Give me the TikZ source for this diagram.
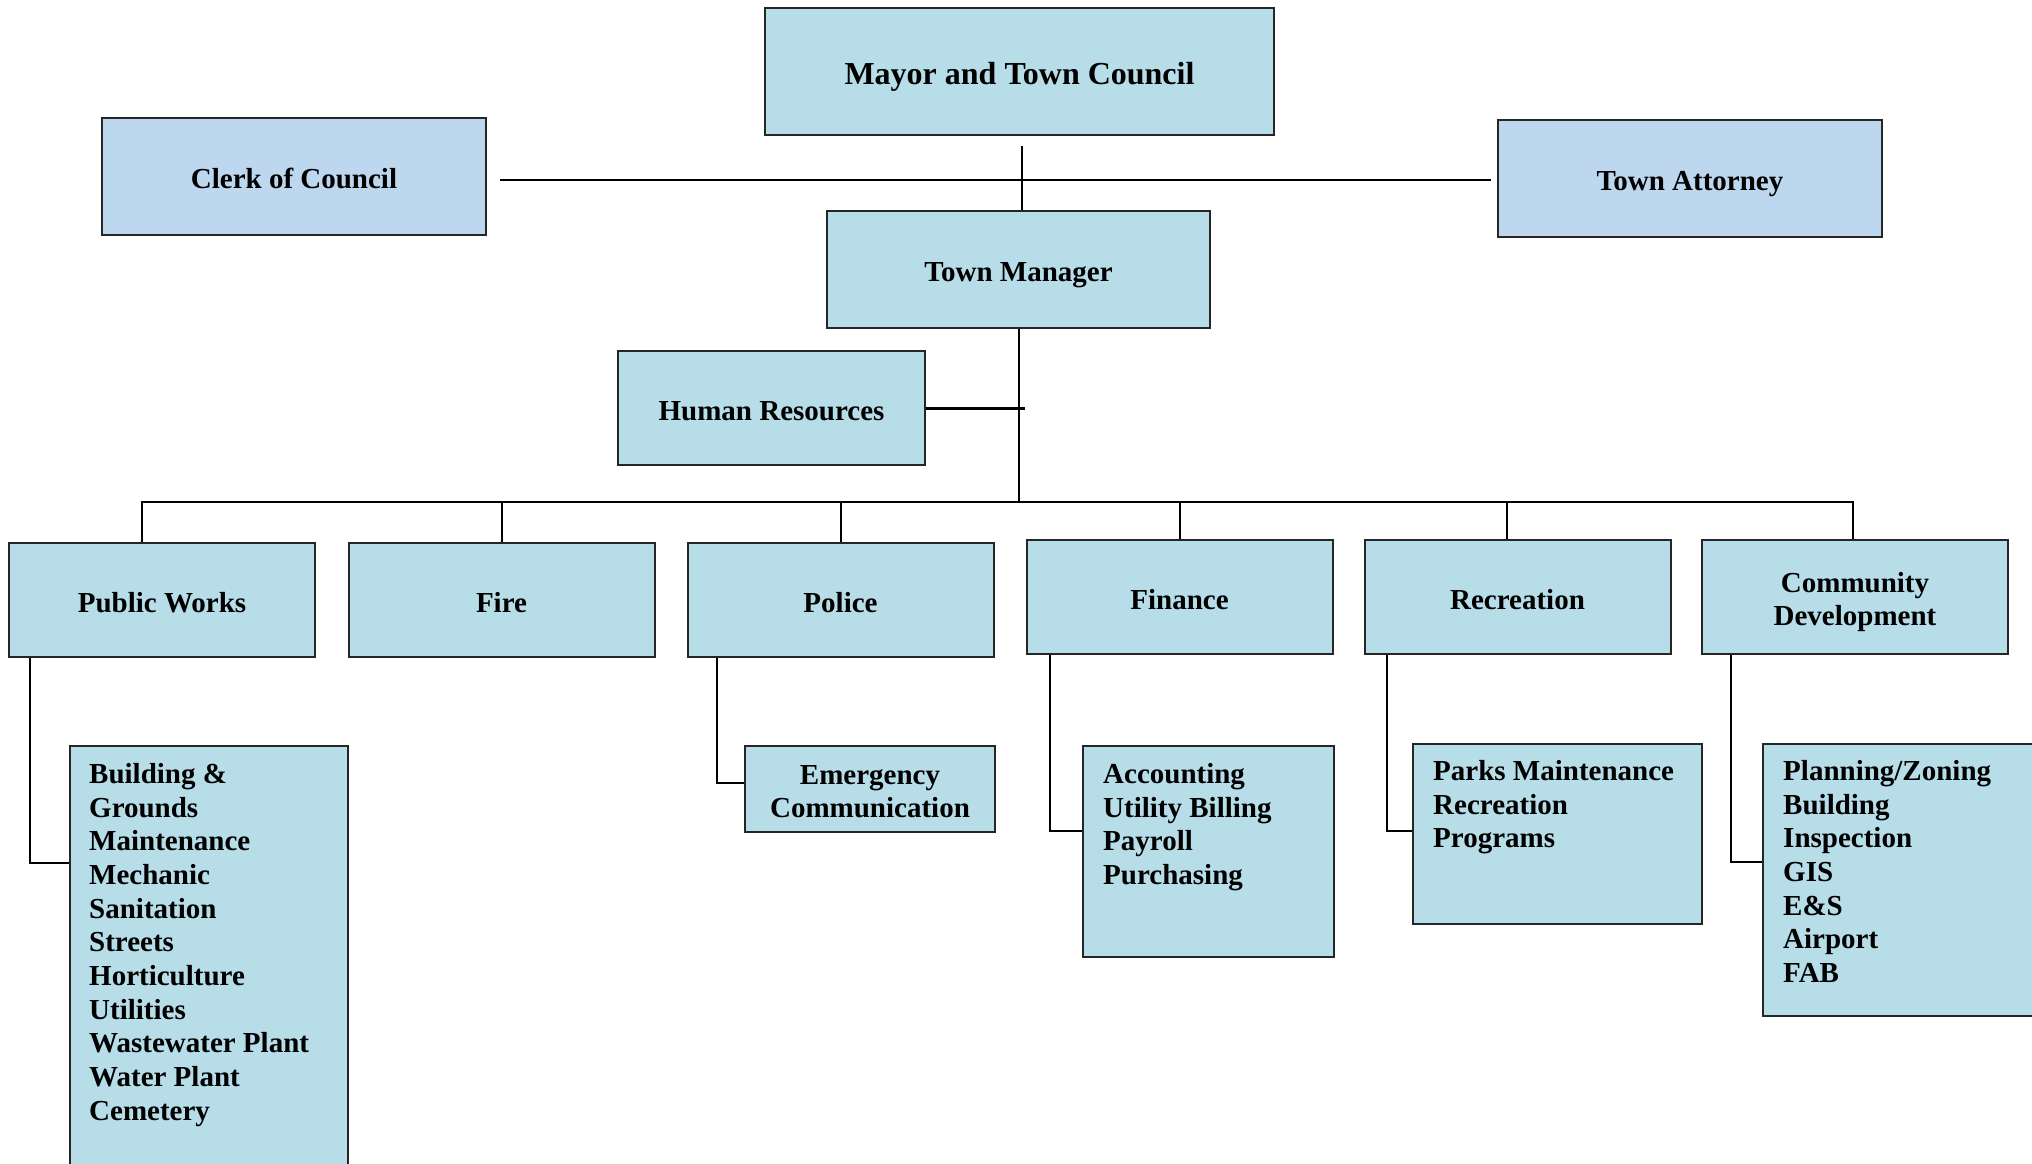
\documentclass[tikz,border=0pt]{standalone}
\usepackage{fontspec}
\setmainfont{Liberation Serif}
\usetikzlibrary{calc}
\definecolor{aqua}{HTML}{B7DDE8}
\definecolor{staffblue}{HTML}{BDD7EE}

\begin{document}
\begin{tikzpicture}[x=1pt, y=-1pt,
    unit/.style={draw=black!85, line width=2pt, fill=aqua, minimum width=306pt, minimum height=114pt,
      align=center, text height=24pt, text depth=0pt, font=\fontsize{29}{33.7}\selectfont\bfseries},
    twolines/.style={text height=57.7pt},
    staff/.style={unit, fill=staffblue, minimum width=384pt, minimum height=117pt},
    sub/.style={unit, anchor=north west},
    list/.style={anchor=north west, inner sep=0pt, align=left, font=\fontsize{29}{33.7}\selectfont\bfseries},
    link/.style={line width=2pt}]
  \useasboundingbox (0,0) rectangle (2032,1164);

  \node [unit, minimum width=509pt, minimum height=127pt, text height=26pt, font=\fontsize{32}{36}\selectfont\bfseries] (mayor) at (1019.5,71.5) {Mayor and Town Council};
  \node [staff] (clerk) at (294,176.5) {Clerk of Council};
  \node [staff] (attorney) at (1690,178.5) {Town Attorney};
  \node [unit, minimum width=383pt, minimum height=117pt] (manager) at (1018.5,269.5) {Town Manager};
  \node [unit, minimum width=307pt] (hr) at (771.5,408) {Human Resources};

  \node [unit] (works) at (162,600) {Public Works};
  \node [unit] (fire) at (501.5,600) {Fire};
  \node [unit] (police) at (840.5,600) {Police};
  \node [unit] (finance) at (1179.5,597) {Finance};
  \node [unit] (recreation) at (1517.5,597) {Recreation};
  \node [unit, twolines] (community) at (1855,597) {Community\\Development};

  \node [sub, minimum width=278pt, minimum height=440pt] (worksub) at (69,745) {};
  \node [list] (worklist) at ($(worksub.north west)+(20,18)$) {Building \&\\Grounds\\Maintenance\\Mechanic\\Sanitation\\Streets\\Horticulture\\Utilities\\Wastewater Plant\\Water Plant\\Cemetery};
  \node [sub, twolines, minimum width=250pt, minimum height=86pt] (dispatch) at (744,745) {Emergency\\Communication};
  \node [sub, minimum width=251pt, minimum height=211pt] (financesub) at (1082,745) {};
  \node [list] (financelist) at ($(financesub.north west)+(21,18)$) {Accounting\\Utility Billing\\Payroll\\Purchasing};
  \node [sub, minimum width=289pt, minimum height=180pt] (recsub) at (1412,743) {};
  \node [list] (reclist) at ($(recsub.north west)+(21,17)$) {Parks Maintenance\\Recreation\\Programs};
  \node [sub, minimum width=290pt, minimum height=272pt] (commsub) at (1762,743) {};
  \node [list] (commlist) at ($(commsub.north west)+(21,17)$) {Planning/Zoning\\Building\\Inspection\\GIS\\E\&S\\Airport\\FAB};

  \coordinate (hub) at ($(manager.south)+(0,173)$);
  \draw [link] ($(clerk.east)+(13,3)$) -- ($(attorney.west)+(-6,1)$);
  \draw [link] ($(mayor.south)+(2,10)$) -- ($(manager.north)+(3,0)$);
  \draw [link] (manager.south) -- (hub);
  \draw [line width=3pt] (hr.east) -- ($(hr.east -| hub)+(6,0)$);
  \draw [link] ($(works.north)+(-20,0)$) |- (hub) -| ($(community.north)+(-2,0)$);
  \foreach \d in {fire,police,finance}
    \draw [link] (\d.north) -- (\d.north |- hub);
  \draw [link] ($(recreation.north)+(-11,0)$) -- ($(recreation.north |- hub)+(-11,0)$);

  \draw [link] ($(works.south west)+(22,0)$) |- ($(worksub.north west)+(0,118)$);
  \draw [link] ($(police.south west)+(30,0)$) |- ($(dispatch.north west)+(0,38)$);
  \draw [link] ($(finance.south west)+(24,0)$) |- ($(financesub.north west)+(0,86)$);
  \draw [link] ($(recreation.south west)+(23,0)$) |- ($(recsub.north west)+(0,88)$);
  \draw [link] ($(community.south west)+(30,0)$) |- ($(commsub.north west)+(0,119)$);
\end{tikzpicture}
\end{document}
